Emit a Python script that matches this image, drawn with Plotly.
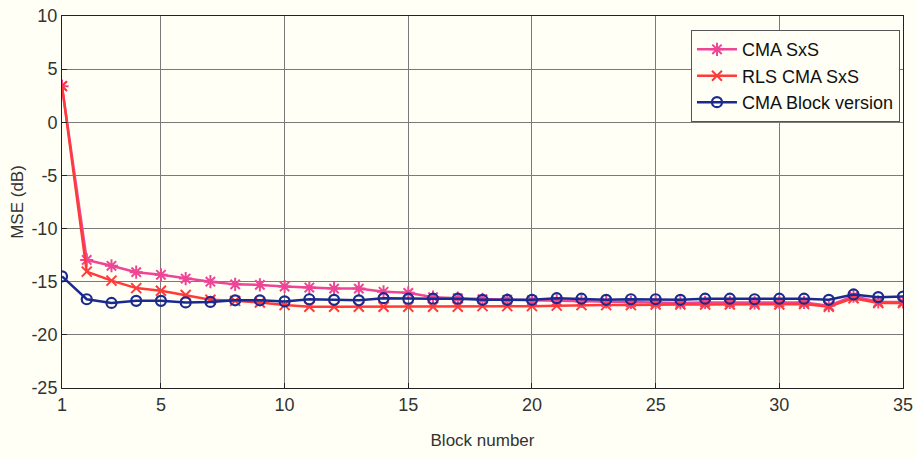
import plotly.graph_objects as go

blocks = list(range(1, 36))
cma_sxs = [3.4, -12.95, -13.5, -14.1, -14.35, -14.7, -15.0, -15.25, -15.3, -15.45,
           -15.55, -15.65, -15.65, -15.95, -16.05, -16.45, -16.55, -16.65, -16.7, -16.75,
           -16.8, -16.85, -16.9, -16.95, -16.95, -17.0, -16.95, -16.95, -17.0, -16.95,
           -16.95, -17.25, -16.35, -16.9, -16.9]
rls_cma_sxs = [3.4, -14.05, -14.9, -15.6, -15.85, -16.25, -16.7, -16.8, -16.95, -17.2,
               -17.35, -17.35, -17.35, -17.35, -17.35, -17.35, -17.35, -17.3, -17.3, -17.3,
               -17.25, -17.2, -17.2, -17.2, -17.15, -17.15, -17.15, -17.15, -17.15, -17.15,
               -17.1, -17.35, -16.55, -17.0, -17.0]
cma_block = [-14.5, -16.65, -17.0, -16.8, -16.8, -16.95, -16.9, -16.75, -16.75, -16.85,
             -16.65, -16.7, -16.75, -16.55, -16.6, -16.6, -16.6, -16.7, -16.7, -16.7,
             -16.55, -16.6, -16.7, -16.65, -16.65, -16.7, -16.6, -16.6, -16.65, -16.6,
             -16.6, -16.7, -16.2, -16.45, -16.4]

xticks = [1, 5, 10, 15, 20, 25, 30, 35]
yticks = [-25, -20, -15, -10, -5, 0, 5, 10]

FONT = "Liberation Sans Narrow, Liberation Sans, Arial"
BG = "#FFFFF5"

fig = go.Figure()
fig.add_trace(go.Scatter(x=blocks, y=cma_sxs, name="CMA SxS", mode="lines+markers",
                         line=dict(color="#EE4596", width=2.5),
                         marker=dict(symbol="asterisk-open", size=11,
                                     line=dict(color="#EE4596", width=2))))
fig.add_trace(go.Scatter(x=blocks, y=rls_cma_sxs, name="RLS CMA SxS", mode="lines+markers",
                         line=dict(color="#FF3A3A", width=2.5),
                         marker=dict(symbol="x-thin-open", size=10,
                                     line=dict(color="#FF3A3A", width=2))))
fig.add_trace(go.Scatter(x=blocks, y=cma_block, name="CMA Block version", mode="lines+markers",
                         line=dict(color="#1B2A8E", width=2.5),
                         marker=dict(symbol="circle-open", size=10,
                                     line=dict(color="#1B2A8E", width=2.2))))

axis_common = dict(showgrid=True, gridcolor="#7a7a7a", gridwidth=1,
                   showline=True, linecolor="#222222", linewidth=1, mirror=True,
                   ticks="inside", ticklen=5, tickcolor="#222222", zeroline=False,
                   automargin=False,
                   tickfont=dict(family=FONT, size=18, color="#333333"))

fig.update_xaxes(range=[1, 35], tickvals=xticks, ticktext=[str(v) for v in xticks],
                 title=dict(text="Block number", font=dict(family=FONT, size=17, color="#333333"),
                            standoff=20),
                 **axis_common)
fig.update_yaxes(range=[-25, 10], tickvals=yticks, ticktext=[str(v) for v in yticks],
                 title=dict(text="MSE (dB)", font=dict(family=FONT, size=17, color="#333333"),
                            standoff=3),
                 **axis_common)

fig.update_layout(
    width=916, height=459,
    margin=dict(l=62, r=13, t=16, b=71),
    paper_bgcolor=BG, plot_bgcolor=BG,
    font=dict(family=FONT, color="#222222"),
    legend=dict(x=0.9964, y=0.962, xanchor="right", yanchor="top",
                bgcolor=BG, bordercolor="#555555", borderwidth=1,
                font=dict(family=FONT, size=18, color="#111111"),
                itemwidth=40, tracegroupgap=0),
    showlegend=True,
)

fig.write_html("out.html",
               config={"displayModeBar": False},
               post_script="document.body.style.margin='0';"
                           "document.body.style.background='%s';" % BG)
